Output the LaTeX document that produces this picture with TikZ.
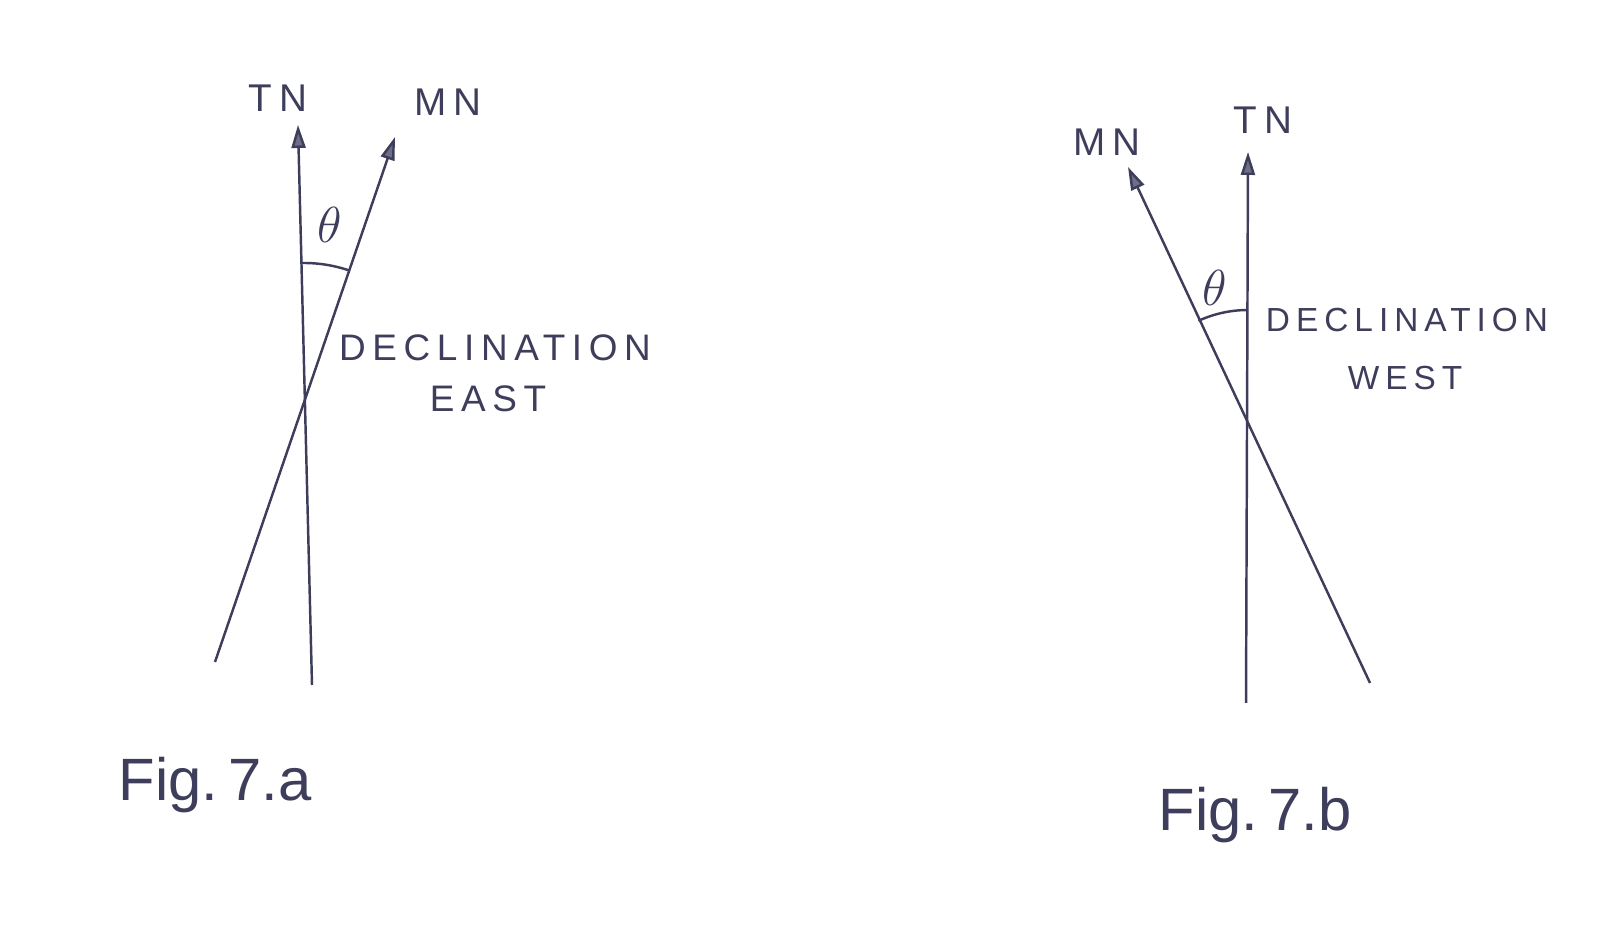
\documentclass[tikz,border=0pt]{standalone}
\usepackage{fontspec}
\setmainfont{Liberation Sans}
\newfontfamily\handfont[LetterSpace=18]{Liberation Sans}
\usepackage{xcolor}
\usetikzlibrary{arrows.meta,positioning,calc}
\definecolor{pencil}{RGB}{62,62,92}
\tikzset{
  pline/.style={draw=pencil,line width=0.7pt},
  north/.style={pline,-{Triangle[length=2.3mm,width=1.4mm,fill=pencil!75]}},
  lbl/.style={text=pencil,font=\handfont\fontsize{11}{12}\selectfont,inner sep=0pt},
  note/.style={text=pencil,font=\handfont\fontsize{9.5}{11}\selectfont,inner sep=0pt},
  ang/.style={text=pencil,font=\fontsize{14}{15}\selectfont,inner sep=0pt},
  figlbl/.style={text=pencil,font=\fontsize{17}{19}\selectfont,inner sep=0pt}
}
\begin{document}
\begin{tikzpicture}
    \useasboundingbox (0,0) rectangle (16,9.3);
    % Fig 7.a -- declination east
    \coordinate (aO) at (3.04,5.27);
    \coordinate (aTNtop) at (2.98,8.05);
    \coordinate (aTNbot) at (3.12,2.45);
    \coordinate (aMNtop) at (3.95,7.93);
    \coordinate (aMNbot) at (2.15,2.68);
    \draw[north] (aTNbot) -- (aTNtop);
    \draw[north] (aMNbot) -- (aMNtop);
    \draw[pline] ($(aO)+(91:1.4)$) arc[start angle=91,end angle=71,radius=1.4];
    \node[lbl] (aTN) at (2.78,8.32) {TN};
    \node[lbl] (aMN) at (4.48,8.28) {MN};
    \node[ang] (aTheta) at (3.30,7.05) {$\theta$};
    \node[note,font=\handfont\fontsize{10.5}{12}\selectfont] (aDecl) at (4.95,5.82) {DECLINATION};
    \node[note,font=\handfont\fontsize{10.5}{12}\selectfont] (aEast) at (4.88,5.31) {EAST};
    \node[figlbl] (aFig) at (2.15,1.45) {Fig.\,7.a};

    % Fig 7.b -- declination west
    \coordinate (bO) at (12.48,5.01);
    \coordinate (bTNtop) at (12.48,7.78);
    \coordinate (bTNbot) at (12.46,2.27);
    \coordinate (bMNtop) at (11.28,7.63);
    \coordinate (bMNbot) at (13.70,2.47);
    \draw[north] (bTNbot) -- (bTNtop);
    \draw[north] (bMNbot) -- (bMNtop);
    \draw[pline] ($(bO)+(90:1.19)$) arc[start angle=90,end angle=114.6,radius=1.19];
    \node[lbl] (bMN) at (11.07,7.88) {MN};
    \node[lbl] (bTN) at (12.63,8.10) {TN};
    \node[ang] (bTheta) at (12.15,6.42) {$\theta$};
    \node[note] (bDecl) at (14.07,6.10) {DECLINATION};
    \node[note] (bWest) at (14.05,5.52) {WEST};
    \node[figlbl] (bFig) at (12.55,1.15) {Fig.\,7.b};
\end{tikzpicture}
\end{document}
